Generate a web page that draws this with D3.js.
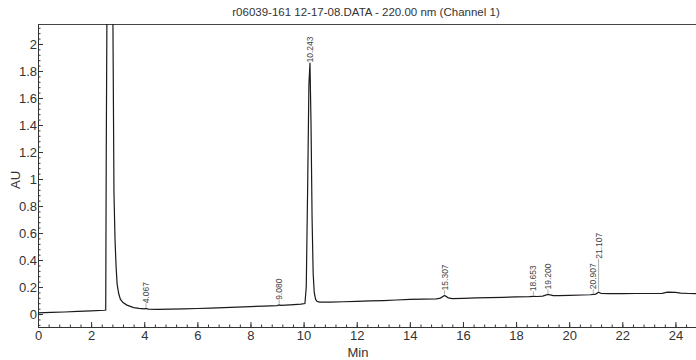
<!DOCTYPE html>
<html>
<head>
<meta charset="utf-8" />
<title>r06039-161 chromatogram</title>
<script src="https://cdn.jsdelivr.net/npm/d3@7/dist/d3.min.js"></script>
<style>
body { margin: 0; background: #fff; }
svg { display: block; font-family: "Liberation Sans", Arial, sans-serif; }
</style>
</head>
<body>
<div id="chart"></div>
<script>
const chartTitle = "r06039-161 12-17-08.DATA - 220.00 nm (Channel 1)";

// trace, minutes vs AU
const traceTime = [0, 0.5, 1, 1.5, 2, 2.5, 2.55, 2.57, 2.6, 2.7, 2.78, 2.82, 2.86, 2.9, 2.94, 2.98, 3.04, 3.1, 3.2, 3.35, 3.5, 3.6, 3.8, 4.0, 4.067, 4.15, 4.5, 5, 5.5, 6, 6.5, 7, 7.5, 8, 8.5, 9.0, 9.08, 9.15, 9.5, 9.9, 10.05, 10.1, 10.15, 10.2, 10.24, 10.28, 10.32, 10.36, 10.4, 10.45, 10.5, 10.6, 11, 11.5, 12, 12.5, 13, 13.5, 14, 14.5, 15, 15.15, 15.307, 15.45, 15.6, 16, 16.5, 17, 17.5, 18, 18.5, 18.653, 18.8, 19.0, 19.2, 19.4, 19.6, 20, 20.5, 20.8, 20.907, 21.0, 21.107, 21.2, 21.5, 22, 22.5, 23, 23.5, 23.7, 24.0, 24.2, 24.5, 25];
const traceAU   = [0.008, 0.012, 0.015, 0.019, 0.023, 0.028, 0.03, 1.2, 2.4, 3.2, 3.0, 2.2, 0.9, 0.55, 0.35, 0.22, 0.15, 0.11, 0.085, 0.066, 0.055, 0.048, 0.042, 0.038, 0.042, 0.036, 0.035, 0.036, 0.038, 0.041, 0.044, 0.047, 0.051, 0.055, 0.059, 0.063, 0.068, 0.064, 0.068, 0.073, 0.078, 0.2, 0.9, 1.7, 1.86, 1.4, 0.7, 0.3, 0.16, 0.11, 0.095, 0.088, 0.088, 0.091, 0.094, 0.097, 0.1, 0.104, 0.108, 0.11, 0.113, 0.118, 0.138, 0.12, 0.114, 0.116, 0.119, 0.122, 0.124, 0.127, 0.129, 0.131, 0.13, 0.133, 0.145, 0.137, 0.136, 0.138, 0.141, 0.143, 0.146, 0.148, 0.162, 0.152, 0.151, 0.151, 0.152, 0.152, 0.153, 0.162, 0.16, 0.155, 0.152, 0.15];

// integrated peaks and their labels
const peakTime  = [4.067, 9.080, 10.243, 15.307, 18.653, 19.200, 20.907, 21.107];
const peakLabel = ["4.067", "9.080", "10.243", "15.307", "18.653", "19.200", "20.907", "21.107"];

const yTicks = [0, 0.2, 0.4, 0.6, 0.8, 1, 1.2, 1.4, 1.6, 1.8, 2];
const xTicks = [0, 2, 4, 6, 8, 10, 12, 14, 16, 18, 20, 22, 24];

const width = 696, height = 360;
const margin = {top: 24, right: -6, bottom: 33, left: 38};

const svg = d3.select("#chart").append("svg")
  .attr("width", width)
  .attr("height", height);

const x = d3.scaleLinear().domain([0, 25]).range([margin.left, width - margin.right]);
const y = d3.scaleLinear().domain([-0.096, 2.148]).range([height - margin.bottom, margin.top]);

svg.append("defs").append("clipPath").attr("id", "plotclip")
  .append("rect")
  .attr("x", margin.left).attr("y", margin.top)
  .attr("width", width - margin.left).attr("height", height - margin.bottom - margin.top);

// title
svg.append("text")
  .attr("x", 366).attr("y", 16)
  .attr("text-anchor", "middle")
  .attr("font-size", 11.5)
  .attr("fill", "#333")
  .text(chartTitle);

// top frame line
svg.append("line")
  .attr("x1", margin.left).attr("x2", width)
  .attr("y1", margin.top + 0.5).attr("y2", margin.top + 0.5)
  .attr("stroke", "#444").attr("stroke-width", 1.2);

// minor ticks
const xMinor = d3.range(0, 25.01, 0.4);
const yMinor = d3.range(-0.08, 2.15, 0.04);

const xAxisG = svg.append("g")
  .attr("transform", "translate(0," + (height - margin.bottom) + ")");
xAxisG.append("g")
  .call(d3.axisTop(x).tickValues(xMinor).tickSize(2.5).tickFormat(""))
  .call(g => g.select(".domain").remove());
xAxisG.append("g")
  .call(d3.axisBottom(x).tickValues(xTicks).tickSize(0).tickPadding(4).tickFormat(d3.format("d")))
  .call(g => g.select(".domain").attr("stroke", "#333").attr("d", "M" + margin.left + ",0.5H" + width))
  .call(g => g.selectAll("text").attr("font-size", 13).attr("fill", "#333"));
xAxisG.append("g")
  .call(d3.axisTop(x).tickValues(xTicks).tickSize(5).tickFormat(""))
  .call(g => g.select(".domain").remove());

const yAxisG = svg.append("g")
  .attr("transform", "translate(" + margin.left + ",0)");
yAxisG.append("g")
  .call(d3.axisRight(y).tickValues(yMinor).tickSize(2.5).tickFormat(""))
  .call(g => g.select(".domain").remove());
yAxisG.append("g")
  .call(d3.axisLeft(y).tickValues(yTicks).tickSize(0).tickPadding(1).tickFormat(d => d3.format("")(d)))
  .call(g => g.select(".domain").attr("stroke", "#333").attr("d", "M0.5," + margin.top + "V" + (height - margin.bottom)))
  .call(g => g.selectAll("text").attr("font-size", 13).attr("fill", "#333"));
yAxisG.append("g")
  .call(d3.axisRight(y).tickValues(yTicks).tickSize(5).tickFormat(""))
  .call(g => g.select(".domain").remove());

svg.selectAll(".tick line").attr("stroke", "#333");

// axis titles
svg.append("text")
  .attr("transform", "translate(20," + 180 + ") rotate(-90)")
  .attr("text-anchor", "middle")
  .attr("font-size", 13)
  .attr("fill", "#333")
  .text("AU");
svg.append("text")
  .attr("x", 358).attr("y", 357)
  .attr("text-anchor", "middle")
  .attr("font-size", 13)
  .attr("fill", "#333")
  .text("Min");

// trace
const traceData = traceTime.map((t, i) => [t, traceAU[i]]);
const line = d3.line().x(d => x(d[0])).y(d => y(d[1]));
svg.append("path")
  .datum(traceData)
  .attr("clip-path", "url(#plotclip)")
  .attr("d", line)
  .attr("fill", "none")
  .attr("stroke", "#1a1a1a")
  .attr("stroke-width", 1.2);

// peak labels
const auAt = t => {
  const i = d3.bisectLeft(traceTime, t);
  if (i <= 0) return traceAU[0];
  const t0 = traceTime[i - 1], t1 = traceTime[i];
  const a = (t - t0) / (t1 - t0);
  return traceAU[i - 1] * (1 - a) + traceAU[i] * a;
};
const labelG = svg.append("g");
let prev = null;
peakTime.forEach((t, i) => {
  const px = x(t);
  const py = y(Math.min(auAt(t), 2.1));
  let start = py - 5;
  const len = peakLabel[i].length * 4.6;
  if (prev && px - prev.x < 9) start = prev.top - 3;
  labelG.append("line")
    .attr("x1", px).attr("x2", px)
    .attr("y1", py - 1).attr("y2", start)
    .attr("stroke", "#777").attr("stroke-width", 0.6);
  labelG.append("text")
    .attr("transform", "translate(" + (px + 3) + "," + start + ") rotate(-90)")
    .attr("font-size", 8.5)
    .attr("fill", "#444")
    .text(peakLabel[i]);
  prev = {x: px, top: start - len};
});
</script>
</body>
</html>
